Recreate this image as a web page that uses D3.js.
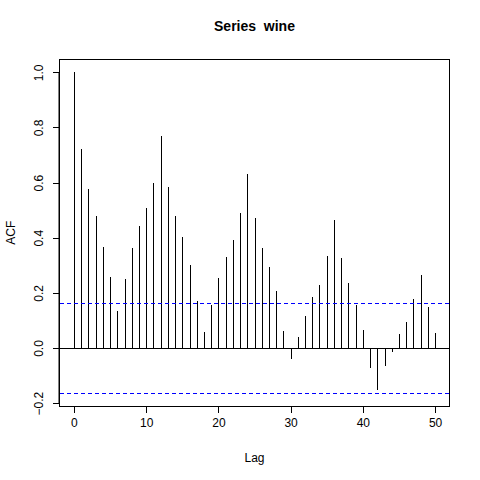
<!DOCTYPE html>
<html>
<head>
<meta charset="utf-8">
<script src="https://cdn.jsdelivr.net/npm/d3@7"></script>
<style>
  body { margin:0; background:#fff; }
  text { font-family: "Liberation Sans", Arial, sans-serif; fill:#000; }
</style>
</head>
<body>
<svg id="chart" width="480" height="480"></svg>
<script>
const width = 480, height = 480
const margin = {top:59.5, right:30.5, bottom:74, left:59.5}

// acf values, lag 0..50
const lags = d3.range(0, 51)
const acf = [1.000, 0.723, 0.578, 0.477, 0.365, 0.257, 0.134, 0.249, 0.361, 0.441,
             0.506, 0.600, 0.770, 0.585, 0.477, 0.401, 0.300, 0.170, 0.058, 0.155,
             0.253, 0.329, 0.390, 0.491, 0.632, 0.473, 0.361, 0.293, 0.206, 0.061,
             -0.040, 0.040, 0.116, 0.184, 0.228, 0.332, 0.463, 0.325, 0.235, 0.155,
             0.065, -0.072, -0.152, -0.065, -0.014, 0.051, 0.094, 0.177, 0.264, 0.148,
             0.054]
const clim = 0.164
const xTicks = [0, 10, 20, 30, 40, 50]
const yTicks = [-0.2, 0.0, 0.2, 0.4, 0.6, 0.8, 1.0]
const title = "Series  wine"

const svg = d3.select("#chart")

// R style 4% extension of the ranges
const xr = [0, 50], yr = [-clim, 1]
const xe = (xr[1]-xr[0])*0.04, ye = (yr[1]-yr[0])*0.04

const x = d3.scaleLinear()
  .domain([xr[0]-xe, xr[1]+xe])
  .range([margin.left, width-margin.right])
const y = d3.scaleLinear()
  .domain([yr[0]-ye, yr[1]+ye])
  .range([height-margin.bottom, margin.top])

const px = v => Math.round(v) + 0.5

// spikes
svg.append("g").selectAll("line")
   .data(lags).enter()
   .append("line")
   .attr("x1", d=>px(x(d))).attr("x2", d=>px(x(d)))
   .attr("y1", y(0)).attr("y2", d=>y(acf[d]))
   .attr("stroke", "#000").attr("stroke-width", 1)
   .attr("shape-rendering", "crispEdges")

// zero line
svg.append("line")
   .attr("x1", margin.left).attr("x2", width-margin.right)
   .attr("y1", px(y(0))).attr("y2", px(y(0)))
   .attr("stroke", "#000").attr("shape-rendering", "crispEdges")

// confidence limits
svg.append("g").selectAll("line")
   .data([clim, -clim]).enter()
   .append("line")
   .attr("x1", margin.left).attr("x2", width-margin.right)
   .attr("y1", d=>px(y(d))).attr("y2", d=>px(y(d)))
   .attr("stroke", "#0000ff").attr("stroke-dasharray", "4,3")
   .attr("shape-rendering", "crispEdges")

// box
svg.append("rect")
   .attr("x", margin.left).attr("y", margin.top)
   .attr("width", width-margin.left-margin.right)
   .attr("height", height-margin.top-margin.bottom)
   .attr("fill", "none").attr("stroke", "#000")
   .attr("shape-rendering", "crispEdges")

// x axis
const xAxis = svg.append("g")
   .attr("transform", "translate(0," + (height-margin.bottom) + ")")
   .call(d3.axisBottom(x).tickValues(xTicks).tickSize(7).tickPadding(5).tickFormat(d3.format("d")))
xAxis.select(".domain")
   .attr("d", "M" + x(xTicks[0]) + ",0.5H" + x(xTicks[xTicks.length-1]))
xAxis.selectAll(".tick line").attr("shape-rendering", "crispEdges")
xAxis.selectAll("text").style("font-size", "12px")
   .style("font-family", "Liberation Sans, Arial, sans-serif")

// y axis
const yAxis = svg.append("g")
   .attr("transform", "translate(" + margin.left + ",0)")
   .call(d3.axisLeft(y).tickValues(yTicks).tickSize(7).tickFormat(d3.format(".1f")))
yAxis.select(".domain")
   .attr("d", "M-0.5," + y(yTicks[0]) + "V" + y(yTicks[yTicks.length-1]))
yAxis.selectAll(".tick line").attr("shape-rendering", "crispEdges")
yAxis.selectAll("text")
   .style("font-size", "12px")
   .style("font-family", "Liberation Sans, Arial, sans-serif")
   .attr("text-anchor", "middle")
   .attr("x", null).attr("dy", null)
   .attr("transform", "translate(-17,0) rotate(-90)")

// labels
svg.append("text")
   .attr("x", (margin.left + width-margin.right)/2).attr("y", 31)
   .attr("text-anchor", "middle")
   .style("font-size", "14px").style("font-weight", "bold")
   .style("white-space", "pre")
   .text(title)

svg.append("text")
   .attr("x", (margin.left + width-margin.right)/2).attr("y", 462)
   .attr("text-anchor", "middle")
   .style("font-size", "12px")
   .text("Lag")

svg.append("text")
   .attr("transform", "translate(15," + ((margin.top + height-margin.bottom)/2) + ") rotate(-90)")
   .attr("text-anchor", "middle")
   .style("font-size", "12px")
   .text("ACF")
</script>
</body>
</html>
